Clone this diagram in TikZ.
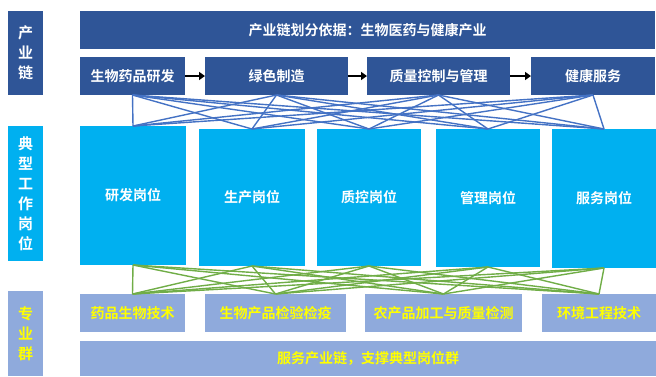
\documentclass[tikz,border=0pt]{standalone}
\usepackage{fontspec}
\newfontfamily\cjk{Noto Sans CJK SC}[BoldFont={Noto Sans CJK SC Bold}]
\usetikzlibrary{arrows.meta}
\definecolor{darkblue}{HTML}{2F5597}
\definecolor{cyanbox}{HTML}{00B0F0}
\definecolor{lightblue}{HTML}{8FAADC}
\definecolor{linkblue}{HTML}{4472C4}
\definecolor{linkgreen}{HTML}{70AD47}
\definecolor{txtyellow}{HTML}{FFFF00}
\tikzset{
  basebox/.style={rectangle, inner sep=0pt, outer sep=0pt, align=center,
    font=\cjk\bfseries\fontsize{14}{16}\selectfont},
  darkbox/.style={basebox, fill=darkblue, text=white},
  posbox/.style={basebox, fill=cyanbox, text=white},
  majbox/.style={basebox, fill=lightblue, text=txtyellow},
  sidelabel/.style={font=\cjk\bfseries\fontsize{15}{20}\selectfont},
  bluelink/.style={draw=linkblue, line width=1.4pt},
  greenlink/.style={draw=linkgreen, line width=1.4pt},
  flowarrow/.style={draw=black, line width=2.6pt, -{Triangle[length=6pt,width=8pt]}},
}
\begin{document}
\begin{tikzpicture}[x=1pt,y=-1pt]
\useasboundingbox (0,0) rectangle (656,376);
% side labels
\node[darkbox, sidelabel, minimum width=35pt, minimum height=84pt] (lab1) at (25.5,53) {产\\业\\链};
\node[posbox, sidelabel, minimum width=35pt, minimum height=135pt] (lab2) at (25.5,193.5) {典\\型\\工\\作\\岗\\位};
\node[majbox, sidelabel, minimum width=35pt, minimum height=85pt] (lab3) at (25.5,333.5) {专\\业\\群};
% top banner
\node[darkbox, minimum width=575pt, minimum height=38pt] (top) at (367.5,30) {产业链划分依据：生物医药与健康产业};
% chain
\node[darkbox, minimum width=105pt, minimum height=38pt] (c1) at (132.5,76) {生物药品研发};
\node[darkbox, minimum width=143pt, minimum height=38pt] (c2) at (276.5,76) {绿色制造};
\node[darkbox, minimum width=143pt, minimum height=38pt] (c3) at (438.5,76) {质量控制与管理};
\node[darkbox, minimum width=124pt, minimum height=38pt] (c4) at (593,76) {健康服务};
% positions
\node[posbox, minimum width=106pt, minimum height=139pt] (p1) at (133,195.5) {研发岗位};
\node[posbox, minimum width=106pt, minimum height=137pt] (p2) at (252,197.5) {生产岗位};
\node[posbox, minimum width=104pt, minimum height=137pt] (p3) at (369,197.5) {质控岗位};
\node[posbox, minimum width=104pt, minimum height=138pt] (p4) at (488,198) {管理岗位};
\node[posbox, minimum width=104pt, minimum height=139pt] (p5) at (604,198.5) {服务岗位};
% majors
\node[majbox, minimum width=105pt, minimum height=38pt] (m1) at (132.5,313) {药品生物技术};
\node[majbox, minimum width=141pt, minimum height=38pt] (m2) at (275.5,313) {生物产品检验检疫};
\node[majbox, minimum width=157pt, minimum height=38pt] (m3) at (443.5,313) {农产品加工与质量检测};
\node[majbox, minimum width=114pt, minimum height=38pt] (m4) at (599,313) {环境工程技术};
% bottom banner
\node[majbox, minimum width=576pt, minimum height=35pt] (bot) at (368,358.5) {服务产业链，支撑典型岗位群};
% arrows
\draw[flowarrow] (c1.east) -- (c2.west);
\draw[flowarrow] (c2.east) -- (c3.west);
\draw[flowarrow] (c3.east) -- (c4.west);
% links
\foreach \c in {c1,c2,c3,c4}{
  \foreach \p in {p1,p2,p3,p4,p5}{
    \draw[bluelink] (\c.south) -- (\p.north);
  }
}
\foreach \p in {p1,p2,p3,p4,p5}{
  \foreach \m in {m1,m2,m3,m4}{
    \draw[greenlink] (\p.south) -- (\m.north);
  }
}
\end{tikzpicture}
\end{document}
